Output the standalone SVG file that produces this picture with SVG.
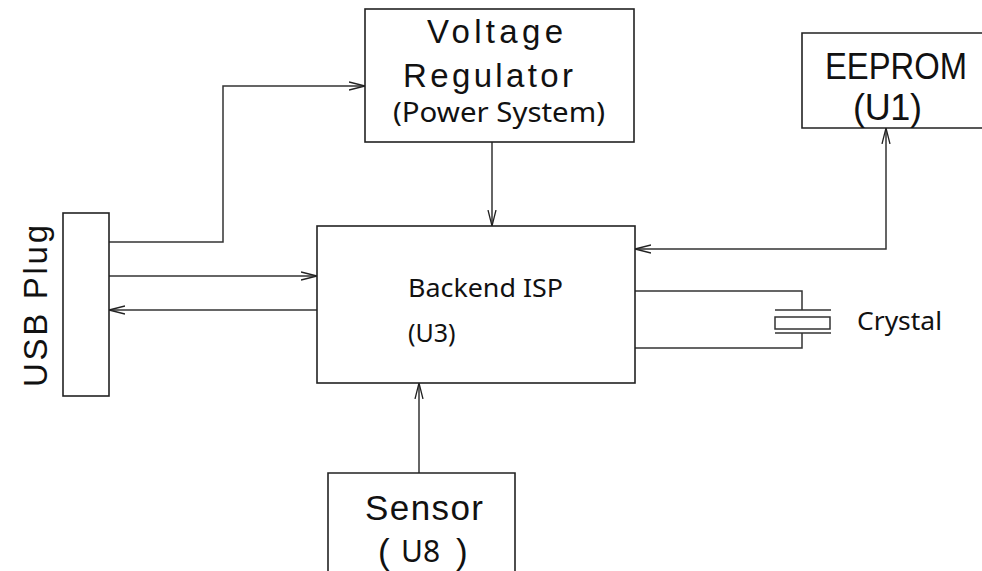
<svg xmlns="http://www.w3.org/2000/svg" width="982" height="571" viewBox="0 0 982 571">
<style>
.box{fill:none;stroke:#222;stroke-width:1.6}
.ln{fill:none;stroke:#333;stroke-width:1.5}
.tech{font-family:"Liberation Sans",Arial,sans-serif;fill:#111}
.ui{font-family:"Noto Sans","Open Sans",sans-serif;fill:#111}
</style>
<defs>
<marker id="ah" viewBox="0 0 16 10" refX="16" refY="5" markerWidth="16" markerHeight="10" markerUnits="userSpaceOnUse" orient="auto">
<path d="M0,1 L16,5 L0,9" fill="none" stroke="#222" stroke-width="1.3"/>
</marker>
</defs>
<rect width="982" height="571" fill="#fff"/>
<g id="connectors">
<polyline class="ln" points="109,242 223,242 223,86 365,86" marker-end="url(#ah)"/>
<line class="ln" x1="109" y1="276" x2="317" y2="276" marker-end="url(#ah)"/>
<line class="ln" x1="317" y1="310" x2="109" y2="310" marker-end="url(#ah)"/>
<line class="ln" x1="492" y1="142" x2="492" y2="226" marker-end="url(#ah)"/>
<polyline class="ln" points="886,200 886,249 635,249" marker-end="url(#ah)"/>
<line class="ln" x1="886" y1="200" x2="886" y2="128" marker-end="url(#ah)"/>
<line class="ln" x1="419" y1="473" x2="419" y2="383" marker-end="url(#ah)"/>
<polyline class="ln" points="635,291 802,291 802,310"/>
<polyline class="ln" points="802,333 802,348 635,348"/>
</g>
<g id="crystal">
<line class="ln" x1="775" y1="310" x2="831" y2="310"/>
<rect class="ln" x="775" y="317" width="55" height="12"/>
<line class="ln" x1="775" y1="333" x2="831" y2="333"/>
<text class="ui" x="857" y="330" font-size="26" textLength="85" lengthAdjust="spacingAndGlyphs">Crystal</text>
</g>
<g id="voltage-regulator">
<rect class="box" x="365" y="9" width="269" height="133"/>
<text class="tech" x="427" y="43" font-size="33" textLength="136" lengthAdjust="spacing">Voltage</text>
<text class="tech" x="403" y="87" font-size="33" textLength="170" lengthAdjust="spacing">Regulator</text>
<text class="ui" x="393" y="122" font-size="27" textLength="212" lengthAdjust="spacingAndGlyphs">(Power System)</text>
</g>
<g id="eeprom">
<polyline class="box" points="984,33 802,33 802,128 984,128"/>
<text class="tech" x="825" y="79" font-size="36" textLength="142" lengthAdjust="spacingAndGlyphs">EEPROM</text>
<text class="tech" x="853" y="120" font-size="36" textLength="69" lengthAdjust="spacing">(U1)</text>
</g>
<g id="usb-plug">
<rect class="box" x="63" y="213" width="46" height="183"/>
<text class="tech" transform="translate(47,387) rotate(-90)" font-size="33" textLength="162" lengthAdjust="spacing">USB Plug</text>
</g>
<g id="backend-isp">
<rect class="box" x="317" y="226" width="318" height="157"/>
<text class="ui" x="408" y="297" font-size="25" textLength="155" lengthAdjust="spacingAndGlyphs">Backend ISP</text>
<text class="ui" x="408" y="342" font-size="25">(U3)</text>
</g>
<g id="sensor">
<polyline class="box" points="328,573 328,473 515,473 515,573"/>
<text class="tech" x="365" y="520" font-size="35" textLength="118" lengthAdjust="spacing">Sensor</text>
<text class="tech" x="378" y="564" font-size="35">(</text>
<text class="ui" x="401" y="562" font-size="30">U8</text>
<text class="tech" x="456" y="564" font-size="35">)</text>
</g>
</svg>
